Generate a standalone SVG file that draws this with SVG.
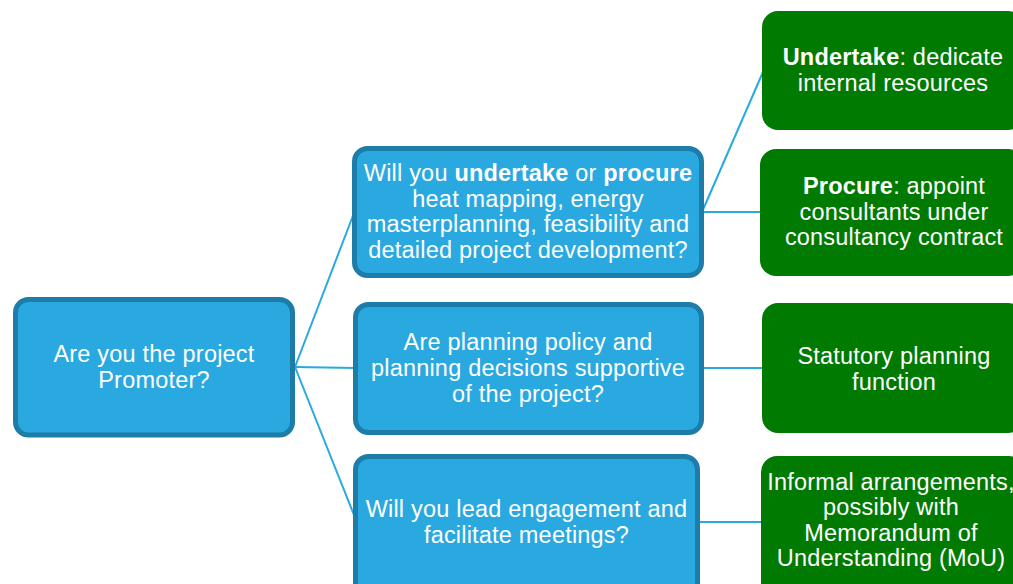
<svg xmlns="http://www.w3.org/2000/svg" width="1013" height="584" viewBox="0 0 1013 584">
<style>
.q{fill:#29a9e0;stroke:#1e7da8;stroke-width:5}
.a{fill:#007a00}
.t{font-family:"Liberation Sans",Arial,sans-serif;font-size:23.5px;letter-spacing:0.2px;fill:#ffffff;text-anchor:middle}
.b{font-weight:bold}
.c{stroke:#29a9e0;stroke-width:2;fill:none}
</style>
<rect width="1013" height="584" fill="#ffffff"/>
<g id="connectors">
<line class="c" x1="295" y1="367" x2="354" y2="213"/>
<line class="c" x1="295" y1="367" x2="356" y2="368"/>
<line class="c" x1="295" y1="367" x2="356" y2="520"/>
<line class="c" x1="702" y1="212" x2="763" y2="72"/>
<line class="c" x1="702" y1="212" x2="762" y2="212"/>
<line class="c" x1="702" y1="368" x2="763" y2="368"/>
<line class="c" x1="698" y1="522" x2="762" y2="522"/>
</g>
<g id="root">
<rect class="q" x="15.5" y="299.5" width="277" height="135.5" rx="13"/>
<text class="t" x="154" y="362">Are you the project</text>
<text class="t" x="154" y="388">Promoter?</text>
</g>
<g id="q1">
<rect class="q" x="354.5" y="148.5" width="347" height="127" rx="13"/>
<text class="t" x="528" y="181">Will you <tspan class="b">undertake</tspan> or <tspan class="b">procure</tspan></text>
<text class="t" x="528" y="206.5">heat mapping, energy</text>
<text class="t" x="528" y="232">masterplanning, feasibility and</text>
<text class="t" x="528" y="257.5">detailed project development?</text>
</g>
<g id="q2">
<rect class="q" x="355.5" y="304.5" width="346" height="128" rx="13"/>
<text class="t" x="528" y="350">Are planning policy and</text>
<text class="t" x="528" y="376">planning decisions supportive</text>
<text class="t" x="528" y="401.5">of the project?</text>
</g>
<g id="q3">
<rect class="q" x="355.5" y="456.5" width="342" height="145" rx="13"/>
<text class="t" x="526.5" y="517">Will you lead engagement and</text>
<text class="t" x="526.5" y="542.5">facilitate meetings?</text>
</g>
<g id="a1">
<rect class="a" x="762" y="11" width="262" height="119" rx="16"/>
<text class="t" x="893" y="65"><tspan class="b">Undertake</tspan>: dedicate</text>
<text class="t" x="893" y="91">internal resources</text>
</g>
<g id="a2">
<rect class="a" x="760" y="149" width="264" height="127" rx="16"/>
<text class="t" x="894" y="194"><tspan class="b">Procure</tspan>: appoint</text>
<text class="t" x="894" y="219.5">consultants under</text>
<text class="t" x="894" y="245">consultancy contract</text>
</g>
<g id="a3">
<rect class="a" x="762" y="303" width="262" height="130" rx="16"/>
<text class="t" x="894" y="364">Statutory planning</text>
<text class="t" x="894" y="389.5">function</text>
</g>
<g id="a4">
<rect class="a" x="761" y="456" width="264" height="145" rx="16"/>
<text class="t" x="891" y="489.5">Informal arrangements,</text>
<text class="t" x="891" y="515">possibly with</text>
<text class="t" x="891" y="540.5">Memorandum of</text>
<text class="t" x="891" y="566">Understanding (MoU)</text>
</g>
</svg>
